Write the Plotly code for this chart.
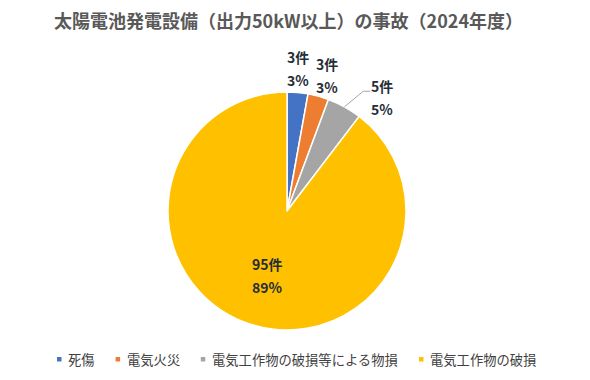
import math
import plotly.graph_objects as go

# ---- data ----
categories = ["死傷", "電気火災", "電気工作物の破損等による物損", "電気工作物の破損"]
counts = [3, 3, 5, 95]
percent_labels = ["3%", "3%", "5%", "89%"]
title_text = "太陽電池発電設備（出力50kW以上）の事故（2024年度）"

# ---- style / layout config ----
colors = ["#4472C4", "#ED7D31", "#A5A5A5", "#FFC000"]
FONT = "Noto Sans CJK JP"
OFF = 8                                  # page body margin of the browser
W, H = 590 - OFF, 380 - OFF              # figure fits the window without scrolling
CX, CY, R = 287, 211, 119               # pie centre / radius in window pixels
label_radius = [143, 141, 148, 67]      # data-label distance from centre (px)
label_shift = [-0.5, 1.3, 11.2, -2.2]   # data-label angle offset (deg)
LINE_GAP = 11.5                          # half distance between the two label lines
LABEL_COLOR = "#262D36"


def px(x):
    return (x - OFF) / W


def py(y):
    return 1 - (y - OFF) / H


fig = go.Figure(go.Pie(
    labels=categories,
    values=counts,
    textinfo="none",
    hoverinfo="label+value+percent",
    sort=False,
    direction="clockwise",
    rotation=0,
    marker=dict(colors=colors, line=dict(color="white", width=1.5)),
    domain=dict(x=[px(CX - R), px(CX + R)], y=[py(CY + R), py(CY - R)]),
    showlegend=False,
))

annotations = []
shapes = []

# title
annotations.append(dict(
    text=f"<b>{title_text}</b>", x=px(288), y=py(20), xref="paper", yref="paper",
    xanchor="center", yanchor="middle", showarrow=False,
    font=dict(family=FONT, size=18, color="#595959")))

total = sum(counts)
cum = 0
for i, (c, p) in enumerate(zip(counts, percent_labels)):
    mid = (cum + c / 2) / total * 360
    cum += c
    ang = math.radians(mid + label_shift[i])
    lx = CX + label_radius[i] * math.sin(ang)
    ly = CY - label_radius[i] * math.cos(ang)
    for txt, yy in ((f"{c}件", ly - LINE_GAP), (p, ly + LINE_GAP)):
        annotations.append(dict(
            text=f"<b>{txt}</b>", x=px(lx), y=py(yy), xref="paper", yref="paper",
            xanchor="center", yanchor="middle", showarrow=False,
            font=dict(family=FONT, size=14, color=LABEL_COLOR)))
    # leader line when the label is pulled away from its slice
    if abs(label_shift[i]) > 5:
        m = math.radians(mid)
        ex, ey = CX + R * math.sin(m), CY - R * math.cos(m)
        endx, endy = lx - 12, ly - LINE_GAP + 5
        elbx = endx - 7
        shapes.append(dict(
            type="path", xref="paper", yref="paper",
            path=f"M {px(ex)},{py(ey)} L {px(elbx)},{py(endy)} L {px(endx)},{py(endy)}",
            line=dict(color="#A6A6A6", width=1)))

# ---- legend (built from categories / colors) ----
LEG_Y = 359
LEG_FS = 13.3
CHAR_W = 13.3
x0 = 57
for name, col in zip(categories, colors):
    shapes.append(dict(type="rect", xref="paper", yref="paper",
                       x0=px(x0), x1=px(x0 + 4.5), y0=py(LEG_Y + 2.5), y1=py(LEG_Y - 2),
                       fillcolor=col, line=dict(width=0)))
    tx = x0 + 9
    annotations.append(dict(
        text=name, x=px(tx), y=py(LEG_Y), xref="paper", yref="paper",
        xanchor="left", yanchor="middle", showarrow=False,
        font=dict(family=FONT, size=LEG_FS, color="#404040")))
    x0 = tx + len(name) * CHAR_W + 23

fig.update_layout(
    width=W, height=H,
    margin=dict(l=0, r=0, t=0, b=0),
    paper_bgcolor="white",
    annotations=annotations,
    shapes=shapes,
    font=dict(family=FONT),
)

fig.write_html("out.html")
